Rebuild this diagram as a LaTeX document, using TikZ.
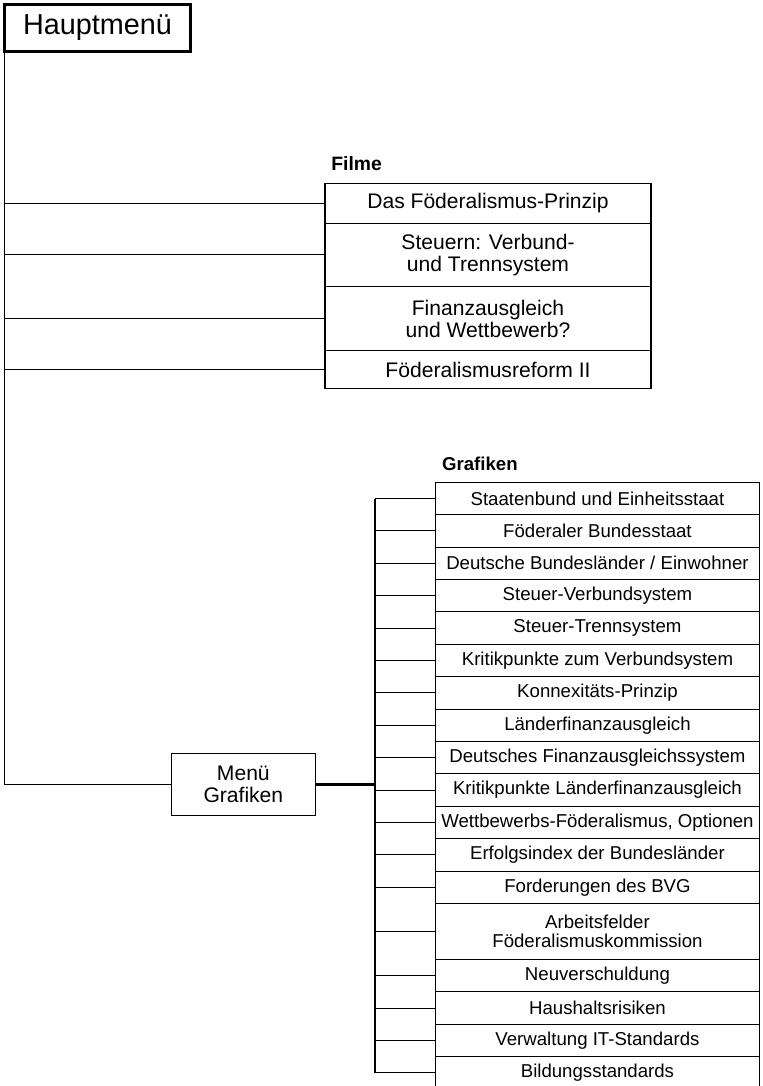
\documentclass[tikz,border=0pt]{standalone}
\usepackage{fontspec}
\setmainfont{Liberation Sans}
\usetikzlibrary{positioning}

\tikzset{
  filmbox/.style={draw, outer sep=0pt, minimum width=6.52cm, align=center, font=\fontsize{12}{12.5}\selectfont},
  grafbox/.style={draw, outer sep=0pt, inner xsep=1pt, minimum width=6.47cm, minimum height=0.648cm, align=center, font=\fontsize{10.6}{10.8}\selectfont},
  trunk/.style={line width=1.2pt}
}

\begin{document}
\begin{tikzpicture}[node distance=0pt, line width=0.6pt]
            \useasboundingbox (0,0) rectangle (15.24,-21.72);

            \node [draw, line width=1.7pt, outer sep=0pt, anchor=north west, minimum width=3.72cm, minimum height=0.94cm, font=\fontsize{16.4}{18}\selectfont] (haupt) at (0.09,-0.09) {Hauptmenü};

            % Filme
            \node [filmbox, anchor=north west, minimum height=0.8cm] (f1) at (6.5,-3.666) {Das Föderalismus-Prinzip};
            \node [filmbox, below=of f1, minimum height=1.26cm] (f2) {Steuern: Verbund-\\und Trennsystem};
            \node [filmbox, below=of f2, minimum height=1.29cm] (f3) {Finanzausgleich\\und Wettbewerb?};
            \node [filmbox, below=of f3, minimum height=0.76cm] (f4) {Föderalismusreform II};
            \node [above right=0.12cm and 0cm of f1.north west, font=\fontsize{11}{13}\selectfont\bfseries] (filmeName) {Filme};

            \node [draw, outer sep=0pt, minimum width=2.89cm, minimum height=1.25cm, align=center, font=\fontsize{12}{12.7}\selectfont] (menu) at (4.867,-15.69) {Menü\\Grafiken};

            % Grafiken
            \node [grafbox, anchor=north west] (g1) at (8.714,-9.646) {Staatenbund und Einheitsstaat};
            \node [grafbox, below=of g1] (g2) {Föderaler Bundesstaat};
            \node [grafbox, below=of g2] (g3) {Deutsche Bundesländer / Einwohner};
            \node [grafbox, below=of g3] (g4) {Steuer-Verbundsystem};
            \node [grafbox, below=of g4] (g5) {Steuer-Trennsystem};
            \node [grafbox, below=of g5] (g6) {Kritikpunkte zum Verbundsystem};
            \node [grafbox, below=of g6] (g7) {Konnexitäts-Prinzip};
            \node [grafbox, below=of g7] (g8) {Länderfinanzausgleich};
            \node [grafbox, below=of g8] (g9) {Deutsches Finanzausgleichssystem};
            \node [grafbox, below=of g9] (g10) {Kritikpunkte Länderfinanzausgleich};
            \node [grafbox, below=of g10] (g11) {Wettbewerbs-Föderalismus, Optionen};
            \node [grafbox, below=of g11] (g12) {Erfolgsindex der Bundesländer};
            \node [grafbox, below=of g12] (g13) {Forderungen des BVG};
            \node [grafbox, below=of g13, minimum height=1.12cm] (g14) {Arbeitsfelder\\Föderalismuskommission};
            \node [grafbox, below=of g14] (g15) {Neuverschuldung};
            \node [grafbox, below=of g15] (g16) {Haushaltsrisiken};
            \node [grafbox, below=of g16] (g17) {Verwaltung IT-Standards};
            \node [grafbox, below=of g17] (g18) {Bildungsstandards};
            \node [above right=0.11cm and 0cm of g1.north west, font=\fontsize{10.6}{12}\selectfont\bfseries] (grafikName) {Grafiken};

            \coordinate [right=1.19cm of menu.east] (gjoin);

            % lines from the main menu
            \draw (haupt.south west) |- (menu.west);
            \draw (haupt.south west |- f1.west) -- (f1.west);
            \draw (haupt.south west |- f2.west) -- (f2.west);
            \draw (haupt.south west |- f3.west) -- (f3.west);
            \draw (haupt.south west |- f4.west) -- (f4.west);

            % lines to the Grafiken
            \draw [trunk] (menu.east) -- (gjoin);
            \draw [trunk] (gjoin |- g1.west) -- (gjoin |- g18.west);
            \draw (gjoin |- g1.west) -- (g1.west);
            \draw (gjoin |- g2.west) -- (g2.west);
            \draw (gjoin |- g3.west) -- (g3.west);
            \draw (gjoin |- g4.west) -- (g4.west);
            \draw (gjoin |- g5.west) -- (g5.west);
            \draw (gjoin |- g6.west) -- (g6.west);
            \draw (gjoin |- g7.west) -- (g7.west);
            \draw (gjoin |- g8.west) -- (g8.west);
            \draw (gjoin |- g9.west) -- (g9.west);
            \draw (gjoin |- g10.west) -- (g10.west);
            \draw (gjoin |- g11.west) -- (g11.west);
            \draw (gjoin |- g12.west) -- (g12.west);
            \draw (gjoin |- g13.west) -- (g13.west);
            \draw (gjoin |- g14.west) -- (g14.west);
            \draw (gjoin |- g15.west) -- (g15.west);
            \draw (gjoin |- g16.west) -- (g16.west);
            \draw (gjoin |- g17.west) -- (g17.west);
            \draw (gjoin |- g18.west) -- (g18.west);

        \end{tikzpicture}
\end{document}
